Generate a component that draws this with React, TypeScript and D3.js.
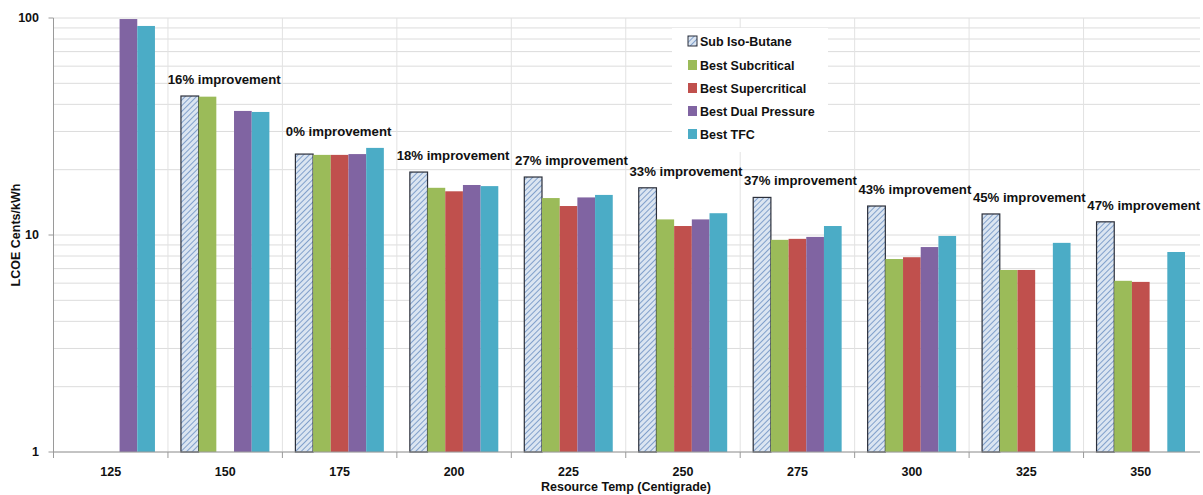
import * as d3 from "d3";

const temps = ["125", "150", "175", "200", "225", "250", "275", "300", "325", "350"];
const seriesNames = [
  "Sub Iso-Butane",
  "Best Subcritical",
  "Best Supercritical",
  "Best Dual Pressure",
  "Best TFC",
];
const seriesColors = ["url(#hatch)", "#9bbb59", "#c0504d", "#8064a2", "#4bacc6"];

// null = no bar for that temperature
const subIsoButane = [null, 43.7, 23.6, 19.5, 18.5, 16.5, 14.9, 13.6, 12.5, 11.5];
const bestSubcritical = [null, 43.4, 23.4, 16.5, 14.8, 11.8, 9.5, 7.75, 6.9, 6.15];
const bestSupercritical = [null, null, 23.4, 15.9, 13.6, 11.0, 9.6, 7.9, 6.9, 6.08];
const bestDualPressure = [98.9, 37.3, 23.6, 17.0, 14.9, 11.8, 9.8, 8.8, null, null];
const bestTFC = [91.9, 36.9, 25.2, 16.8, 15.3, 12.6, 11.0, 9.9, 9.2, 8.35];
const improvements = [null, "16%", "0%", "18%", "27%", "33%", "37%", "43%", "45%", "47%"];

const yTicks = [1, 10, 100];

const W = 1203;
const H = 495;
const left = 53.5;
const right = 1198;
const top = 18;
const bottom = 452;
const font = "'Liberation Sans', Arial, sans-serif";

export default function App() {
  const series = [subIsoButane, bestSubcritical, bestSupercritical, bestDualPressure, bestTFC];
  const x = d3.scaleBand().domain(temps).range([left, right]).padding(0);
  const x1 = d3
    .scaleBand()
    .domain(seriesNames)
    .range([13, x.bandwidth() - 13])
    .padding(0);
  const y = d3.scaleLog().domain([1, 100]).range([bottom, top]);

  const minor: number[] = [];
  for (const dec of [1, 10]) for (let k = 2; k <= 9; k++) minor.push(dec * k);

  return (
    <svg
      width={W}
      height={H}
      style={{ position: "absolute", left: 0, top: 0, background: "#fff" }}
      fontFamily={font}
    >
      <defs>
        <pattern id="hatch" patternUnits="userSpaceOnUse" width="4" height="4" patternTransform="rotate(45)">
          <rect width="4" height="4" fill="#dbe5f1" />
          <line x1="0" y1="0" x2="0" y2="4" stroke="#6a8fc2" strokeWidth="1.6" />
        </pattern>
      </defs>

      {/* grid */}
      {[...minor, ...yTicks].map((v) => (
        <line key={"h" + v} x1={left} x2={right + 2} y1={y(v)} y2={y(v)} stroke="#dcdcdc" strokeWidth={1} />
      ))}
      {temps.slice(1).map((t) => (
        <line key={"v" + t} x1={x(t)} x2={x(t)} y1={top} y2={bottom} stroke="#e2e2e2" strokeWidth={1} />
      ))}

      {/* bars */}
      {temps.map((t, i) => (
        <g key={t} transform={`translate(${x(t)},0)`}>
          {series.map((s, j) => {
            const v = s[i];
            if (v == null) return null;
            return (
              <rect
                key={j}
                x={x1(seriesNames[j])}
                y={y(v)}
                width={x1.bandwidth()}
                height={bottom - y(v)}
                fill={seriesColors[j]}
                stroke={j === 0 ? "#2b2f3a" : "none"}
                strokeWidth={j === 0 ? 1.2 : 0}
              />
            );
          })}
        </g>
      ))}

      {/* improvement labels */}
      {temps.map((t, i) => {
        const txt = improvements[i];
        if (!txt) return null;
        const vals = series.map((s) => s[i]).filter((v) => v != null) as number[];
        const yy = y(d3.max(vals)!) - 12;
        return (
          <text
            key={"l" + t}
            x={(x(t) as number) + x.bandwidth() / 2 + (i > 3 ? 3 : -1)}
            y={yy}
            textAnchor="middle"
            fontSize={13.2}
            fontWeight="bold"
            fill="#111"
          >
            {txt} improvement
          </text>
        );
      })}

      {/* axes */}
      <line x1={left} x2={left} y1={top} y2={bottom} stroke="#9a9a9a" />
      <line x1={left} x2={right + 2} y1={bottom} y2={bottom} stroke="#9a9a9a" />
      {yTicks.map((v) => (
        <g key={"yt" + v}>
          <line x1={left - 5} x2={left} y1={y(v)} y2={y(v)} stroke="#9a9a9a" />
          <text x={39} y={y(v) + 4} textAnchor="end" fontSize={12.5} fontWeight="bold" fill="#111">
            {v}
          </text>
        </g>
      ))}
      {temps.map((t) => (
        <g key={"xt" + t}>
          <line x1={x(t)} x2={x(t)} y1={bottom} y2={bottom + 6} stroke="#9a9a9a" />
          <text
            x={(x(t) as number) + x.bandwidth() / 2}
            y={bottom + 24}
            textAnchor="middle"
            fontSize={12.5}
            fontWeight="bold"
            fill="#111"
          >
            {t}
          </text>
        </g>
      ))}
      <text x={626} y={491} textAnchor="middle" fontSize={12.5} fontWeight="bold" fill="#111">
        Resource Temp (Centigrade)
      </text>
      <text
        transform={`translate(20,${(top + bottom) / 2}) rotate(-90)`}
        textAnchor="middle"
        fontSize={12.5}
        fontWeight="bold"
        fill="#111"
      >
        LCOE Cents/kWh
      </text>

      {/* legend */}
      <rect x={672} y={28} width={156} height={124} fill="#fff" />
      {seriesNames.map((n, j) => {
        const ly = [42, 66, 89, 112, 135][j];
        return (
          <g key={n}>
            <rect
              x={688}
              y={ly - 6}
              width={9}
              height={10}
              fill={seriesColors[j]}
              stroke={j === 0 ? "#2b2f3a" : "none"}
            />
            <text x={700} y={ly + 4} fontSize={12.5} fontWeight="bold" fill="#111">
              {n}
            </text>
          </g>
        );
      })}
    </svg>
  );
}
